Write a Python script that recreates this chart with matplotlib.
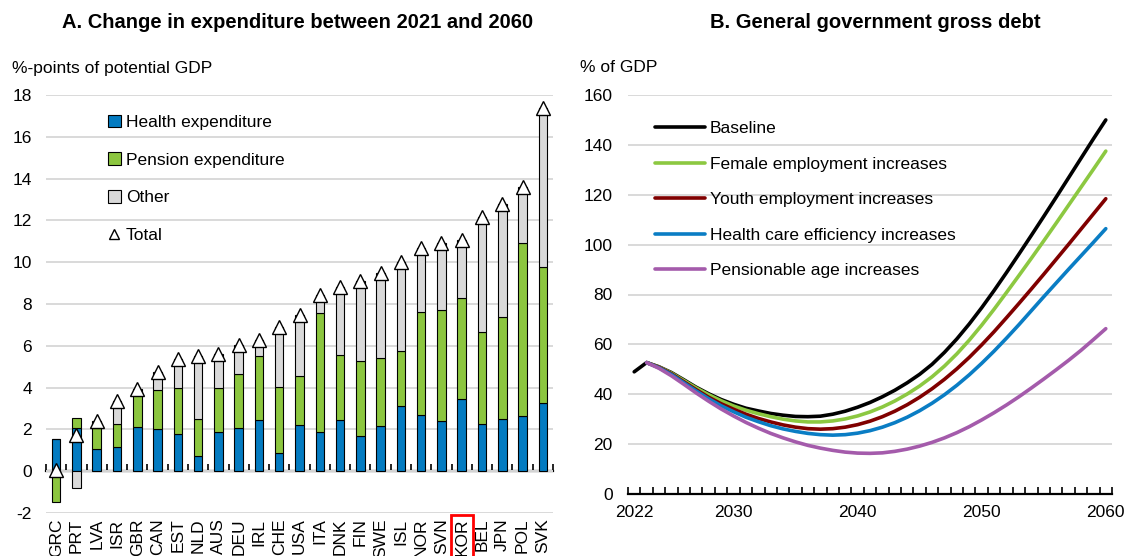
import numpy as np
import matplotlib
matplotlib.use("Agg")
import matplotlib.pyplot as plt

# ---------------- Panel A data: change in expenditure 2021-2060 (%-points of potential GDP)
countries = ["GRC", "PRT", "LVA", "ISR", "GBR", "CAN", "EST", "NLD", "AUS", "DEU",
             "IRL", "CHE", "USA", "ITA", "DNK", "FIN", "SWE", "ISL", "NOR", "SVN",
             "KOR", "BEL", "JPN", "POL", "SVK"]
health = [1.55, 2.05, 1.08, 1.15, 2.10, 2.04, 1.80, 0.75, 1.86, 2.05,
          2.47, 0.88, 2.23, 1.88, 2.47, 1.70, 2.15, 3.11, 2.68, 2.39,
          3.47, 2.28, 2.52, 2.66, 3.25]
pension = [-1.47, 0.50, 0.99, 1.11, 1.53, 1.86, 2.18, 1.75, 2.12, 2.60,
           3.02, 3.15, 2.34, 5.68, 3.09, 3.55, 3.25, 2.65, 4.95, 5.33,
           4.84, 4.38, 4.88, 8.25, 6.53]
other = [0.00, -0.80, 0.32, 1.12, 0.30, 0.83, 1.39, 3.03, 1.64, 1.40,
         0.80, 2.85, 2.91, 0.88, 3.25, 3.83, 4.07, 4.24, 3.04, 3.18,
         2.76, 5.49, 5.39, 2.70, 7.59]
highlight = "KOR"

# ---------------- Panel B data: general government gross debt (% of GDP)
years = list(range(2022, 2061))
baseline = [49.0, 52.7, 51.0, 48.7, 45.8, 42.8, 40.2, 37.9, 36.0, 34.4,
            33.3, 32.3, 31.6, 31.1, 31.0, 31.2, 32.0, 33.2, 34.8, 36.7,
            39.0, 41.6, 44.6, 48.0, 52.0, 56.8, 62.2, 68.2, 74.7, 81.6,
            88.8, 96.2, 103.7, 111.3, 119.0, 126.8, 134.6, 142.4, 150.0]
female = [np.nan, 52.7, 50.9, 48.5, 45.5, 42.5, 39.8, 37.4, 35.3, 33.6,
          32.2, 31.0, 30.0, 29.3, 28.9, 28.9, 29.3, 30.1, 31.3, 32.9,
          34.9, 37.3, 40.1, 43.3, 47.0, 51.3, 56.2, 61.7, 67.7, 74.1,
          80.8, 87.6, 94.5, 101.5, 108.6, 115.8, 123.0, 130.2, 137.5]
youth = [np.nan, 52.7, 50.8, 48.2, 45.0, 41.8, 38.8, 36.2, 34.0, 32.0,
         30.3, 28.9, 27.7, 26.8, 26.2, 26.0, 26.2, 26.8, 27.8, 29.2,
         31.0, 33.2, 35.8, 38.8, 42.2, 46.0, 50.2, 54.8, 59.8, 65.1,
         70.7, 76.4, 82.2, 88.1, 94.1, 100.1, 106.2, 112.3, 118.4]
health_eff = [np.nan, 52.7, 50.6, 47.9, 44.6, 41.3, 38.2, 35.4, 33.0, 30.8,
              29.0, 27.4, 26.1, 25.1, 24.3, 23.8, 23.6, 23.8, 24.4, 25.4,
              26.8, 28.6, 30.8, 33.4, 36.4, 39.8, 43.6, 47.8, 52.4, 57.3,
              62.5, 67.9, 73.5, 79.1, 84.6, 90.1, 95.5, 100.9, 106.4]
pension_age = [np.nan, 52.7, 50.4, 47.4, 44.0, 40.5, 37.2, 34.1, 31.3, 28.7,
               26.4, 24.3, 22.5, 20.9, 19.5, 18.4, 17.5, 16.8, 16.4, 16.3,
               16.5, 17.1, 18.0, 19.2, 20.7, 22.5, 24.6, 27.0, 29.7, 32.6,
               35.7, 39.0, 42.5, 46.1, 49.8, 53.6, 57.6, 61.9, 66.3]
year_labels = [2022, 2030, 2040, 2050, 2060]

# ---------------- styling
plt.rcParams["font.family"] = ["Liberation Sans", "DejaVu Sans"]
plt.rcParams["font.size"] = 12.5
plt.rcParams["axes.unicode_minus"] = False
GRID = "#D9D9D9"
C_BLUE = "#037BC1"
C_GREEN = "#8CC63F"
C_GREY = "#D9D9D9"

W, H = 1130, 556
fig = plt.figure(figsize=(W / 100, H / 100), dpi=100)


def frac_box(left, top, right, bottom):
    return [left / W, 1 - bottom / H, (right - left) / W, (bottom - top) / H]


# ================= Panel A =================
axA = fig.add_axes(frac_box(46, 95, 553, 513))
n = len(countries)
x = np.arange(n)
pos_base = np.zeros(n)
neg_base = np.zeros(n)
handles = []
for vals, color, label in [(health, C_BLUE, "Health expenditure"),
                           (pension, C_GREEN, "Pension expenditure"),
                           (other, C_GREY, "Other")]:
    v = np.asarray(vals, dtype=float)
    bottom = np.where(v >= 0, pos_base, neg_base)
    h = axA.bar(x, v, 0.42, bottom=bottom, color=color, edgecolor="black",
                linewidth=0.8, zorder=3, label=label)
    handles.append(h)
    pos_base += np.where(v >= 0, v, 0)
    neg_base += np.where(v < 0, v, 0)
total = np.asarray(health) + np.asarray(pension) + np.asarray(other)
tri, = axA.plot(x, total, linestyle="none", marker="^", ms=9.5, mfc="white",
                mec="black", mew=1.0, zorder=5, label="Total")
handles.append(tri)

ymin, ymax = -2, 18
axA.set_xlim(-0.5, n - 0.5)
axA.set_ylim(ymin, ymax)
axA.set_yticks(np.arange(ymin, ymax + 1, 2))
axA.yaxis.grid(True, color=GRID, linewidth=1.4)
axA.set_axisbelow(True)
for s in axA.spines.values():
    s.set_visible(False)
axA.tick_params(axis="y", length=0, pad=10)
axA.set_xticks(x)
axA.set_xticklabels(countries, rotation=90, va="top", ha="center")
axA.tick_params(axis="x", length=0, pad=4)

# zero line with category separators
zero_axis = axA.secondary_xaxis((0 - ymin) / (ymax - ymin))
zero_axis.spines["bottom"].set_linewidth(1.6)
zero_axis.spines["bottom"].set_zorder(6)
zero_axis.set_xticks(np.arange(n + 1) - 0.5)
zero_axis.tick_params(axis="x", direction="in", length=5, width=1.2, labelbottom=False)

for lbl in axA.get_xticklabels():
    if lbl.get_text() == highlight:
        lbl.set_bbox(dict(boxstyle="square,pad=0.2", facecolor="none",
                          edgecolor="#FF0000", linewidth=2))

axA.legend(handles=handles, loc="upper left", bbox_to_anchor=(0.122, 0.953),
           frameon=False, handlelength=0.75, handleheight=0.75, handletextpad=0.3,
           labelspacing=1.28, borderaxespad=0, borderpad=0, markerscale=0.8)

fig.text(298 / W, 1 - 22 / H, "A. Change in expenditure between 2021 and 2060",
         ha="center", va="center", fontsize=14.5, fontweight="bold")
fig.text(12 / W, 1 - 68 / H, "%-points of potential GDP", ha="left", va="center")

# ================= Panel B =================
axB = fig.add_axes(frac_box(628, 95, 1112, 494))
series = [(baseline, "#000000", "Baseline"),
          (female, "#8CC841", "Female employment increases"),
          (youth, "#800000", "Youth employment increases"),
          (health_eff, "#0A7DC4", "Health care efficiency increases"),
          (pension_age, "#A45BAB", "Pensionable age increases")]
for vals, color, label in series:
    axB.plot(years, vals, color=color, linewidth=2.6, label=label,
             solid_capstyle="round", zorder=3)

axB.set_xlim(years[0] - 0.5, years[-1] + 0.5)
axB.set_ylim(0, 160)
axB.set_yticks(np.arange(0, 161, 20))
axB.yaxis.grid(True, color=GRID, linewidth=1.4)
axB.set_axisbelow(True)
for side in ("top", "right", "left"):
    axB.spines[side].set_visible(False)
axB.spines["bottom"].set_linewidth(1.6)
axB.tick_params(axis="y", length=0, pad=11)
axB.set_xticks(year_labels)
axB.set_xticks(np.arange(years[0] - 0.5, years[-1] + 1), minor=True)
axB.tick_params(axis="x", which="major", length=0, pad=8)
axB.tick_params(axis="x", which="minor", direction="in", length=5, width=1.2)

axB.legend(loc="upper left", bbox_to_anchor=(0.056, 0.934), frameon=False,
           handlelength=2.85, handletextpad=0.3, labelspacing=1.17,
           borderaxespad=0, borderpad=0)

fig.text(875 / W, 1 - 22 / H, "B. General government gross debt",
         ha="center", va="center", fontsize=14.5, fontweight="bold")
fig.text(580 / W, 1 - 68 / H, "% of GDP", ha="left", va="center")

fig.savefig("out.png", dpi=100)
